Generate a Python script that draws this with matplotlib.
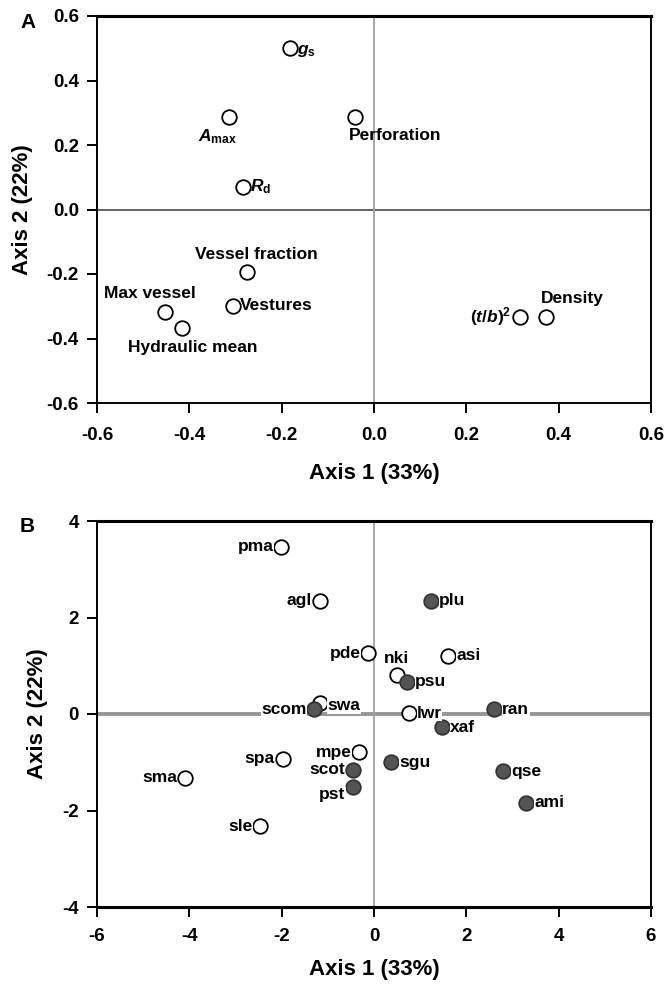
import matplotlib
matplotlib.use('Agg')
import matplotlib.pyplot as plt

plt.rcParams['font.family'] = ['Liberation Sans', 'DejaVu Sans']
plt.rcParams['font.weight'] = 'bold'
plt.rcParams['axes.unicode_minus'] = False
plt.rcParams['mathtext.fontset'] = 'custom'
plt.rcParams['mathtext.rm'] = 'Liberation Sans:bold'
plt.rcParams['mathtext.it'] = 'Liberation Sans:italic:bold'
plt.rcParams['mathtext.bf'] = 'Liberation Sans:bold'

# panel A: trait loadings
traitNames = [r'$g_\mathrm{s}$', r'$A_\mathrm{max}$', 'Perforation', r'$R_\mathrm{d}$',
              'Vessel fraction', 'Vestures', 'Max vessel', 'Hydraulic mean',
              r'$(t/b)^\mathrm{2}$', 'Density']
traitX = [-0.181, -0.313, -0.041, -0.283, -0.276, -0.305, -0.453, -0.415, 0.316, 0.373]
traitY = [0.500, 0.287, 0.287, 0.071, -0.193, -0.298, -0.318, -0.367, -0.333, -0.333]
# where each label sits relative to its point (dx, dy, ha, va)
traitLabelPos = [(0.014, -0.01, 'left', 'center'),
                 (-0.025, -0.06, 'center', 'center'),
                 (-0.013, -0.058, 'left', 'center'),
                 (0.014, 0.0, 'left', 'center'),
                 (0.022, 0.052, 'center', 'center'),
                 (0.014, 0.0, 'left', 'center'),
                 (-0.033, 0.057, 'center', 'center'),
                 (0.022, -0.06, 'center', 'center'),
                 (-0.019, 0.0, 'right', 'center'),
                 (-0.012, 0.058, 'left', 'center')]

# panel B: species scores
speciesNames = ['pma', 'agl', 'plu', 'pde', 'nki', 'asi', 'psu', 'swa', 'scom', 'lwr',
                'ran', 'xaf', 'mpe', 'spa', 'sgu', 'scot', 'qse', 'sma', 'pst', 'ami', 'sle']
speciesX = [-2.01, -1.18, 1.24, -0.12, 0.49, 1.61, 0.72, -1.18, -1.29, 0.76,
            2.61, 1.48, -0.32, -1.98, 0.37, -0.46, 2.80, -4.10, -0.45, 3.30, -2.46]
speciesY = [3.47, 2.35, 2.35, 1.26, 0.80, 1.21, 0.67, 0.22, 0.10, 0.02,
            0.10, -0.27, -0.79, -0.93, -1.00, -1.16, -1.19, -1.32, -1.52, -1.84, -2.33]
speciesFilled = [False, False, True, False, False, False, True, False, True, False,
                 True, True, False, False, True, True, True, False, True, True, False]
speciesSide = ['left', 'left', 'right', 'left', 'top', 'right', 'right', 'right', 'left', 'right',
               'right', 'right', 'left', 'left', 'right', 'left', 'right', 'left', 'left', 'right', 'left']

fig = plt.figure(figsize=(6.65, 9.86), dpi=100)
axA = fig.add_axes([97/665, 1-403/986, 554/665, 387/986])
axB = fig.add_axes([97/665, 1-907/986, 554/665, 386/986])


def style_axes(ax):
    for s in ax.spines.values():
        s.set_linewidth(1.4)
    ax.spines['top'].set_linewidth(2.2)
    ax.tick_params(direction='out', length=7, width=1.4, labelsize=13.5,
                   top=False, right=False)
    ax.tick_params(axis='y', pad=6)
    for lab in ax.get_xticklabels() + ax.get_yticklabels():
        lab.set_fontweight('bold')
    ax.set_ylabel('Axis 2 (22%)', fontsize=16, fontweight='bold', labelpad=10)


# ---- panel A
axA.set_xlim(-0.6, 0.6)
axA.set_ylim(-0.6, 0.6)
axA.set_xticks([-0.6, -0.4, -0.2, 0.0, 0.2, 0.4, 0.6])
axA.set_yticks([-0.6, -0.4, -0.2, 0.0, 0.2, 0.4, 0.6])
axA.xaxis.set_major_formatter(matplotlib.ticker.FormatStrFormatter('%.1f'))
axA.yaxis.set_major_formatter(matplotlib.ticker.FormatStrFormatter('%.1f'))
axA.axhline(0, color='#555555', lw=1.3, zorder=1)
axA.axvline(0, color='#a0a0a0', lw=1.3, zorder=1)
axA.scatter(traitX, traitY, s=110, facecolor='white', edgecolor='black', linewidth=1.3, zorder=3)
for i in range(len(traitNames)):
    dx, dy, ha, va = traitLabelPos[i]
    axA.text(traitX[i] + dx, traitY[i] + dy, traitNames[i], ha=ha, va=va,
             fontsize=12.5, fontweight='bold', zorder=4)
style_axes(axA)
axA.tick_params(axis='x', pad=10)
axA.set_xlabel('Axis 1 (33%)', fontsize=16, fontweight='bold', labelpad=14)
fig.text(20/665, 1-22/986, 'A', fontsize=15, fontweight='bold', ha='left', va='center')

# ---- panel B
axB.set_xlim(-6, 6)
axB.set_ylim(-4, 4)
axB.set_xticks([-6, -4, -2, 0, 2, 4, 6])
axB.set_yticks([-4, -2, 0, 2, 4])
axB.axhline(0, color='#969696', lw=2.8, zorder=1)
axB.axvline(0, color='#a0a0a0', lw=1.3, zorder=1)
for i in range(len(speciesNames)):
    if speciesFilled[i]:
        fc, ec = '#555555', '#333333'
    else:
        fc, ec = 'white', 'black'
    axB.scatter(speciesX[i], speciesY[i], s=110, facecolor=fc, edgecolor=ec, linewidth=1.3, zorder=3)
    side = speciesSide[i]
    if side == 'left':
        xt, yt, ha = speciesX[i] - 0.17, speciesY[i], 'right'
    elif side == 'right':
        xt, yt, ha = speciesX[i] + 0.17, speciesY[i], 'left'
    else:
        xt, yt, ha = speciesX[i], speciesY[i] + 0.34, 'center'
    if speciesNames[i] == 'pst':
        yt = yt - 0.15
    if speciesNames[i] == 'swa':
        yt = yt - 0.05
    axB.text(xt, yt, speciesNames[i], ha=ha, va='center', fontsize=12.5, fontweight='bold', zorder=4,
             bbox=dict(facecolor='white', edgecolor='none', pad=0.3))
style_axes(axB)
axB.tick_params(axis='x', pad=8)
axB.set_xlabel('Axis 1 (33%)', fontsize=16, fontweight='bold', labelpad=10)
axB.spines['bottom'].set_linewidth(2.2)
fig.text(20/665, 1-527/986, 'B', fontsize=15, fontweight='bold', ha='left', va='center')

fig.savefig('out.png', dpi=100)
